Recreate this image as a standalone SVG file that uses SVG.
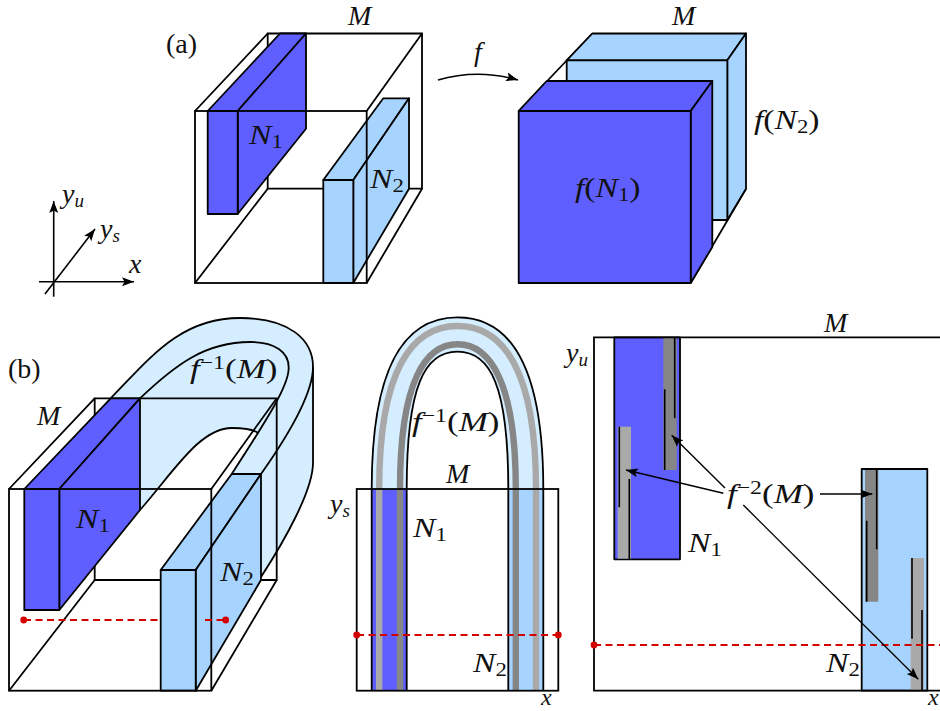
<svg xmlns="http://www.w3.org/2000/svg" width="940" height="711" viewBox="0 0 940 711">
<defs>
<style>
.l{fill:none;stroke:#000;stroke-width:1.8;stroke-linejoin:miter}
.b{fill:#5f5fff;stroke:#000;stroke-width:1.8;stroke-linejoin:round}
.c{fill:#a6d4ff;stroke:#000;stroke-width:1.8;stroke-linejoin:round}
.h{fill:#d5eeff;stroke:none}
.g1{fill:#a9a9a9}
.g2{fill:#868686}
.s1{fill:none;stroke:#a9a9a9;stroke-width:6.4}
.s2{fill:none;stroke:#868686;stroke-width:6.4}
.thin{fill:none;stroke:#000;stroke-width:1.6}
.a{fill:none;stroke:#000;stroke-width:1.4;marker-end:url(#arr)}
.ax{fill:none;stroke:#000;stroke-width:1.6}
.r{fill:none;stroke:#d40000;stroke-width:1.8;stroke-dasharray:7 4.5}
.d{fill:#d40000}
text{font-family:"Liberation Serif","Times New Roman",serif;font-size:28px;fill:#111;font-style:italic}
.u{font-style:normal}
.sub{font-size:19px;font-style:normal}
.subi{font-size:19px;font-style:italic}
.sup{font-size:19px;font-style:normal}
.xl{font-size:24px}
</style>
<marker id="arr" markerUnits="userSpaceOnUse" markerWidth="14" markerHeight="10" refX="12" refY="4.5" orient="auto">
<path d="M0 0L12 4.5L0 9L2.5 4.5Z" fill="#000"/>
</marker>
</defs>

<g id="panel-a-M">
<path class="l" d="M267.7 33.5H422V188.7H267.7Z"/>
<path class="l" d="M195 111L267.7 33.5M366.7 111L422 33.5M195 283L267.7 188.7M366.7 283L422 188.7"/>
</g>
<g id="panel-a-N1">
<path class="b" d="M207.7 111L280 33.5H306L237.7 111Z"/>
<path class="b" d="M237.7 111L306 33.5V128.7L237.7 214Z"/>
<rect class="b" x="207.7" y="111" width="30" height="103"/>
</g>
<g id="panel-a-N2">
<path class="c" d="M323.3 180L383.3 98.3H409L353.3 180Z"/>
<path class="c" d="M353.3 180L409 98.3V188.7L353.3 283Z"/>
<rect class="c" x="323.3" y="180" width="30" height="103"/>
</g>
<g id="panel-a-M-front">
<rect class="l" x="195" y="111" width="171.7" height="172"/>
</g>

<g id="panel-a-image-N2">
<path class="l" d="M592.3 33.5L518.7 111M746 188.7L690.7 283"/>
<path class="c" d="M592.3 33.5H746L727.3 60.3H566.7Z"/>
<path class="c" d="M727.3 60.3L746 33.5V188.7L727.3 220Z"/>
<path class="c" d="M566.7 60.3H727.3V220H566.7Z"/>
</g>
<g id="panel-a-image-N1">
<path class="b" d="M518.7 111L546.7 81H712.3L690.7 111Z"/>
<path class="b" d="M690.7 111L712.3 81V247L690.7 283Z"/>
<rect class="b" x="518.7" y="111" width="172" height="172"/>
</g>

<g id="connectors">
<path class="a" d="M438 80C465 72 490 72 518 80"/>
<path class="ax" d="M39 281.7H134" marker-end="url(#arr)"/>
<path class="ax" d="M53.7 296.7V201" marker-end="url(#arr)"/>
<path class="ax" d="M45 294L95 229" marker-end="url(#arr)"/>
</g>

<g id="panel-b-preimage">
<path class="h" d="M110.7 398.3C150 358 180 318 240 318C290 318 313 340 313 367V463C313 490 285 540 261 577V474H231.7L258.5 433.5C255 430 245 428 232 428C200 428 175 470 140 510V398.3Z"/>
<path class="l" d="M110.7 398.3C150 358 180 318 240 318C290 318 313 340 313 367V463C313 490 285 540 261 577"/>
<path class="l" d="M140 398.3C175 365 205 342 250 342C275 342 289 352 288.7 368C288.7 385 270 415 231.7 474"/>
<path class="l" d="M313 367C313 395 285 440 261 474"/>
<path class="l" d="M140 510C175 470 200 428 232 428C245 428 255 430 258.5 433.5"/>
</g>
<g id="panel-b-M">
<path class="l" d="M94.7 398.3H276.7V580H94.7Z"/>
<path class="l" d="M9 489L94.7 398.3M211.3 489L276.7 398.3M9 690.7L94.7 580M211.3 690.7L276.7 580"/>
</g>
<g id="panel-b-N1">
<path class="b" d="M24.3 489L110.7 398.3H140L59.3 489Z"/>
<path class="b" d="M59.3 489L140 398.3V510L59.3 610Z"/>
<rect class="b" x="24.3" y="489" width="35" height="121"/>
</g>
<g id="panel-b-N2">
<path class="c" d="M160.7 570L231.7 474H261L195.7 570Z"/>
<path class="c" d="M195.7 570L261 474V580L195.7 690.7Z"/>
<rect class="c" x="160.7" y="570" width="35" height="120.7"/>
</g>
<g id="panel-b-M-front">
<rect class="l" x="9" y="489" width="202.3" height="201.7"/>
</g>
<g id="panel-b-red">
<path class="r" d="M24 620H160M205 620H226"/>
<circle class="d" cx="23.7" cy="620" r="3.4"/>
<circle class="d" cx="225.7" cy="620" r="3.4"/>
</g>

<g id="panel-c">
<path class="h" d="M371.7 489C371.7 365 405 317.3 457.5 317.3C510 317.3 543.3 365 543.3 489H508.3C508.3 385 490 351.7 457.5 351.7C425 351.7 406.7 385 406.7 489Z"/>
<rect x="371.7" y="489" width="35" height="201.7" fill="#5f5fff"/>
<rect x="508.3" y="489" width="35" height="201.7" fill="#a6d4ff"/>
<path class="s1" d="M379.2 690.7V489C379.2 370 412 326 457.5 326C503 326 536 370 536 489V690.7"/>
<path class="s2" d="M400 690.7V489C400 380 426 344.3 457.5 344.3C489 344.3 515.8 380 515.8 489V690.7"/>
<path class="l" d="M371.7 690.7V489C371.7 365 405 317.3 457.5 317.3C510 317.3 543.3 365 543.3 489V690.7"/>
<path class="l" d="M406.7 690.7V489C406.7 385 425 351.7 457.5 351.7C490 351.7 508.3 385 508.3 489V690.7"/>
<rect class="l" x="356.7" y="489" width="201.6" height="201.7"/>
<path class="r" d="M357 635H558"/>
<circle class="d" cx="356.7" cy="635" r="3.4"/>
<circle class="d" cx="558.3" cy="635" r="3.4"/>
</g>

<g id="panel-d-N1">
<rect class="b" x="614.3" y="337.3" width="65.7" height="222"/>
<rect class="g2" x="663.3" y="338" width="13.4" height="132"/>
<rect class="g1" x="617.7" y="426.7" width="13.3" height="132"/>
<path class="thin" d="M674.7 337.3V418.3M664.7 389.3V470M619.3 426.7V507.3M629.3 479V559.3"/>
</g>
<g id="panel-d-N2">
<rect class="c" x="861.7" y="469" width="65.6" height="221.7"/>
<rect class="g2" x="865" y="470" width="13.3" height="131.7"/>
<rect class="g1" x="910.7" y="558" width="13.3" height="132"/>
<path class="thin" d="M876.7 469V549.3M866.7 520.7V601.7M912 558V638.7M922 610V690.7"/>
</g>
<g id="panel-d-M">
<path class="l" d="M940 337.3H594V690.7H940"/>
<path class="r" d="M594 645H940"/>
<circle class="d" cx="594" cy="645" r="3.4"/>
</g>
<g id="connectors-d">
<path class="a" d="M725 488L671.7 435.3"/>
<path class="a" d="M723.3 493.3L626 470"/>
<path class="a" d="M820 494H872.3"/>
<path class="a" d="M743.3 505L918.3 679.3"/>
</g>

<g id="labels">
<text x="348" y="25">M</text>
<text x="166" y="53" class="u">(a)</text>
<text transform="translate(249 144) scale(1.2 1)">N<tspan class="sub" dy="4">1</tspan></text>
<text transform="translate(370 188) scale(1.2 1)">N<tspan class="sub" dy="4">2</tspan></text>
<text x="672" y="25">M</text>
<text x="474" y="61">f</text>
<text transform="translate(754 129) scale(1.2 1)">f<tspan class="u">(</tspan>N<tspan class="sub" dy="4">2</tspan><tspan class="u" dy="-4">)</tspan></text>
<text transform="translate(575 197) scale(1.2 1)">f<tspan class="u">(</tspan>N<tspan class="sub" dy="4">1</tspan><tspan class="u" dy="-4">)</tspan></text>
<text x="62" y="203">y<tspan class="subi" dy="4">u</tspan></text>
<text x="100" y="238">y<tspan class="subi" dy="4">s</tspan></text>
<text x="129" y="273">x</text>
<text x="8" y="378" class="u">(b)</text>
<text x="37" y="425">M</text>
<text transform="translate(190 378) scale(1.25 1)">f<tspan class="sup" dy="-9">−1</tspan><tspan class="u" dy="9">(</tspan>M<tspan class="u">)</tspan></text>
<text transform="translate(76 528) scale(1.2 1)">N<tspan class="sub" dy="4">1</tspan></text>
<text transform="translate(220 581) scale(1.2 1)">N<tspan class="sub" dy="4">2</tspan></text>
<text transform="translate(412 431) scale(1.25 1)">f<tspan class="sup" dy="-9">−1</tspan><tspan class="u" dy="9">(</tspan>M<tspan class="u">)</tspan></text>
<text x="446" y="483">M</text>
<text x="330" y="513">y<tspan class="subi" dy="4">s</tspan></text>
<text transform="translate(413 537) scale(1.2 1)">N<tspan class="sub" dy="4">1</tspan></text>
<text transform="translate(473 672) scale(1.2 1)">N<tspan class="sub" dy="4">2</tspan></text>
<text x="541" y="705" class="xl">x</text>
<text x="824" y="332">M</text>
<text x="566" y="362">y<tspan class="subi" dy="4">u</tspan></text>
<text transform="translate(688 552) scale(1.2 1)">N<tspan class="sub" dy="4">1</tspan></text>
<text transform="translate(826 672) scale(1.2 1)">N<tspan class="sub" dy="4">2</tspan></text>
<text x="928" y="705" class="xl">x</text>
<text transform="translate(727 503) scale(1.25 1)">f<tspan class="sup" dy="-9">−2</tspan><tspan class="u" dy="9">(</tspan>M<tspan class="u">)</tspan></text>
</g>
</svg>
